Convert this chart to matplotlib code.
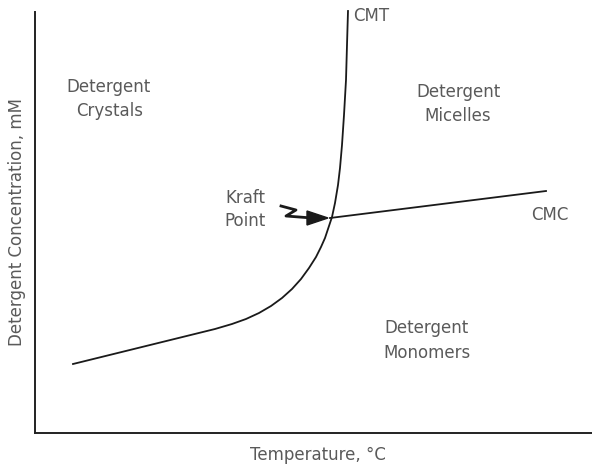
import matplotlib
matplotlib.use("Agg")
import matplotlib.pyplot as plt
from matplotlib.patches import Polygon

W, H = 592, 468
X0, Y0 = 35, 433  # pixel origin of axes

# curve points (pixel-derived, converted to data units below)
cmt_px_x = [73, 215, 232, 246, 259, 271, 282, 292, 301, 309, 316, 321, 325, 328,
            332, 335, 338, 340, 342, 344, 346, 347, 348]
cmt_px_y = [364, 329, 324, 319, 313, 306, 298, 289, 279, 268, 257, 247, 238, 229,
            217, 203, 185, 168, 145, 115, 80, 45, 11]
cmc_px_x = [330, 546]
cmc_px_y = [218, 191]

def dx(v): return [p - X0 for p in v]
def dy(v): return [Y0 - p for p in v]

plt.rcParams['font.family'] = ['DejaVu Sans']
fig = plt.figure(figsize=(W/100, H/100), dpi=100)
ax = fig.add_axes([X0/W, (H-Y0)/H, (W-X0)/W, (Y0-12)/H])
ax.set_xlim(0, W - X0)
ax.set_ylim(0, Y0 - 12)
for s in ['top', 'right']:
    ax.spines[s].set_visible(False)
for s in ['left', 'bottom']:
    ax.spines[s].set_linewidth(1.4)
    ax.spines[s].set_color('#222222')
ax.set_xticks([]); ax.set_yticks([])

ax.plot(dx(cmt_px_x), dy(cmt_px_y), color='#1a1a1a', lw=1.3, clip_on=False,
        solid_joinstyle='round')
ax.plot(dx(cmc_px_x), dy(cmc_px_y), color='#1a1a1a', lw=1.3)

# squiggle arrow
sq_x = [281, 296, 286, 312]
sq_y = [206, 210, 216, 218]
ax.plot(dx(sq_x), dy(sq_y), color='#1a1a1a', lw=2.0, solid_joinstyle='round')
head = Polygon([(307 - X0, Y0 - 211), (328 - X0, Y0 - 218), (307 - X0, Y0 - 225)],
               closed=True, color='#1a1a1a')
ax.add_patch(head)

tc = '#5a5a5a'
fs = 12
def t(px, py, s, **kw):
    ax.text(px - X0, Y0 - py, s, color=tc, fontsize=fs, ha='center', va='center', **kw)

t(108, 87, 'Detergent')
t(110, 111, 'Crystals')
t(458, 92, 'Detergent')
t(458, 116, 'Micelles')
t(427, 328, 'Detergent')
t(427, 353, 'Monomers')
t(245, 198, 'Kraft')
t(245, 221, 'Point')
t(371, 16, 'CMT')
t(550, 215, 'CMC')

fig.text(318/W, 1 - 455/H, 'Temperature, °C', color=tc, fontsize=fs, ha='center', va='center')
fig.text(17/W, 1 - 222/H, 'Detergent Concentration, mM', color=tc, fontsize=fs,
         ha='center', va='center', rotation=90)

fig.savefig('out.png', dpi=100)
